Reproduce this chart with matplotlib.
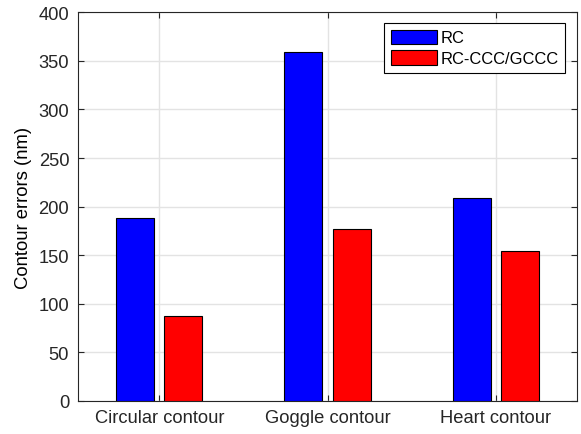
import numpy as np
import matplotlib
matplotlib.use("Agg")
from matplotlib import pyplot as plt

categories = ["Circular contour", "Goggle contour", "Heart contour"]
rc_errors = [188, 359, 209]
ccc_errors = [87, 177, 154]
series_names = ["RC", "RC-CCC/GCCC"]

plt.rcParams["font.family"] = ["Liberation Sans", "DejaVu Sans"]

fig = plt.figure(figsize=(5.81, 4.35), dpi=100)
ax = fig.add_axes([0.1334, 0.0759, 0.8597, 0.8935])

x = np.arange(1, len(categories) + 1)
w = 0.226
off = 0.143
ax.bar(x - off, rc_errors, w, color="#0000ff", edgecolor="black", linewidth=0.8,
       label=series_names[0], zorder=3)
ax.bar(x + off, ccc_errors, w, color="#ff0000", edgecolor="black", linewidth=0.8,
       label=series_names[1], zorder=3)

ax.set_xlim(0.514, 3.483)
ax.set_ylim(0, 400)
ax.set_xticks(x)
ax.set_xticklabels(categories)
ax.set_yticks(np.arange(0, 401, 50))
ax.set_ylabel("Contour errors (nm)", fontsize=13.3, labelpad=5)

ax.grid(True, color="#e3e3e3", linewidth=1.0, zorder=0)
ax.tick_params(direction="in", length=4, width=0.8, top=True, right=True,
               labelsize=13.2, colors="#262626", pad=6)
for s in ax.spines.values():
    s.set_linewidth(0.8)
    s.set_color("#262626")

leg = ax.legend(loc="upper right", bbox_to_anchor=(0.976, 0.9725), borderaxespad=0,
                fontsize=11.9, fancybox=False, framealpha=1, edgecolor="black",
                handlelength=2.8, handleheight=0.95, handletextpad=0.2,
                labelspacing=0.3, borderpad=0.4)
leg.get_frame().set_linewidth(0.8)

fig.savefig("out.png", dpi=100)
